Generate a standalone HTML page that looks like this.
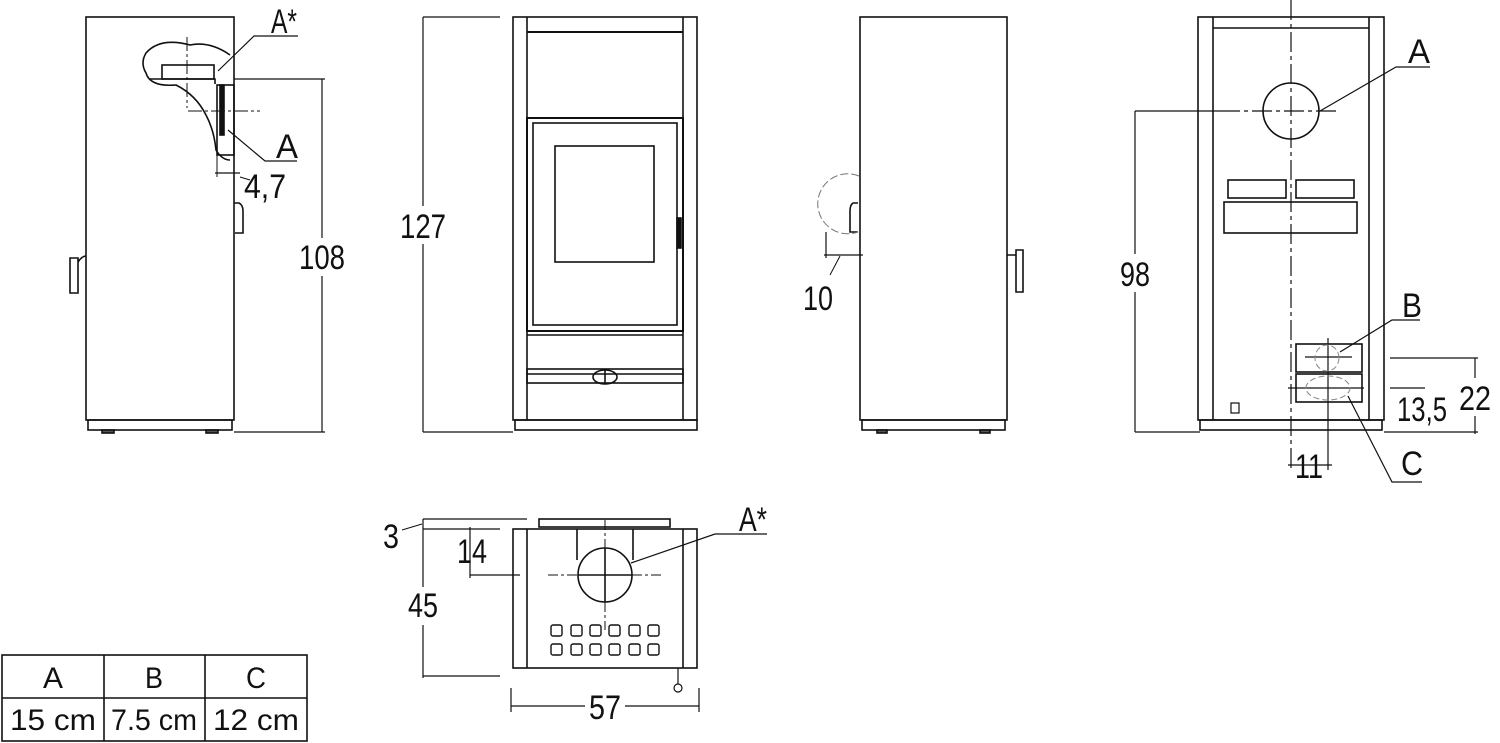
<!DOCTYPE html>
<html><head><meta charset="utf-8"><style>
html,body{margin:0;padding:0;background:#fff;}
svg{display:block;}
text{font-family:"Liberation Sans",sans-serif;fill:#111;}
</style></head><body>
<svg width="1500" height="743" viewBox="0 0 1500 743" xmlns="http://www.w3.org/2000/svg">
<g fill="none" stroke="#111" stroke-width="1.6">
<!-- LEFT SIDE VIEW -->
<rect x="86" y="17" width="148" height="403"/>
<rect x="88" y="420" width="144" height="10"/>
<rect x="102" y="430" width="12" height="3" fill="#555"/>
<rect x="206" y="430" width="12" height="3" fill="#555"/>
<path d="M78,258 h-8 v35 h8 z M78,262 q4,-6 8,-6"/>
<path d="M234,203 h5 q4,2 4,8 v22 h-8"/>
<path d="M230,55 q-20,-14 -40,-10 q-30,-8 -44,8 q-6,10 0,20 q4,14 30,12 q20,10 30,30 q8,15 10,35 q6,10 14,10"/>
<rect x="162" y="65" width="52" height="14"/>
<path d="M150,79 H215 v5"/>
<rect x="217" y="85" width="17" height="70"/>
<rect x="220" y="85" width="4" height="50" fill="#111"/>
<line x1="234" y1="79" x2="325" y2="79" stroke-width="1.2"/>
<line x1="234" y1="432" x2="325" y2="432" stroke-width="1.2"/>
<line x1="322" y1="79" x2="322" y2="432" stroke-width="1.2"/>
<line x1="217" y1="155" x2="217" y2="177" stroke-width="1"/>
<line x1="215" y1="173" x2="240" y2="173" stroke-width="1.2"/>
<path d="M240,177 L250,180" stroke-width="1"/>
<path d="M218,71 L254,36 H298" stroke-width="1.2"/>
<path d="M228,130 L265,161 H297" stroke-width="1.2"/>
</g>
<g stroke="#111" stroke-width="1" stroke-dasharray="14,3,3,3">
<line x1="187" y1="37" x2="187" y2="108"/>
<line x1="188" y1="111" x2="260" y2="111"/>
</g>

<!-- FRONT VIEW -->
<g fill="none" stroke="#111" stroke-width="1.6">
<rect x="513" y="17" width="184" height="403"/>
<line x1="527" y1="17" x2="527" y2="420"/>
<line x1="683" y1="17" x2="683" y2="420"/>
<line x1="527" y1="32" x2="683" y2="32" stroke-width="2"/>
<rect x="527" y="118" width="156" height="213" stroke-width="2"/>
<rect x="533" y="123" width="144" height="202"/>
<rect x="555" y="146" width="99" height="116"/>
<line x1="527" y1="335" x2="683" y2="335"/>
<rect x="527" y="369" width="156" height="14"/>
<line x1="527" y1="374" x2="683" y2="374"/>
<ellipse cx="605" cy="377" rx="12" ry="7"/>
<line x1="605" y1="370" x2="605" y2="384"/>
<rect x="677" y="218" width="4" height="30" fill="#111"/>
<rect x="515" y="420" width="182" height="10"/>
<line x1="423" y1="17" x2="500" y2="17" stroke-width="1.2"/>
<line x1="423" y1="432" x2="513" y2="432" stroke-width="1.2"/>
<line x1="423" y1="17" x2="423" y2="432" stroke-width="1.2"/>
</g>

<!-- RIGHT SIDE VIEW -->
<g fill="none" stroke="#111" stroke-width="1.6">
<rect x="860" y="17" width="147" height="403"/>
<rect x="862" y="420" width="143" height="10"/>
<rect x="877" y="430" width="10" height="3" fill="#555"/>
<rect x="980" y="430" width="10" height="3" fill="#555"/>
<path d="M858,203 h-5 q-3,2 -3,8 v21 h8"/>
<path d="M1007,255 h9 M1016,250 h7 v42 h-7 z"/>
<line x1="826" y1="232" x2="826" y2="258" stroke-width="1.2"/>
<line x1="824" y1="255" x2="863" y2="255" stroke-width="1.2"/>
<line x1="840" y1="256" x2="830" y2="275" stroke-width="1"/>
</g>
<path d="M859,176 A30,30 0 1 0 858,232" fill="none" stroke="#777" stroke-width="1" stroke-dasharray="8,3"/>

<!-- BACK VIEW -->
<g fill="none" stroke="#111" stroke-width="1.6">
<rect x="1198" y="17" width="186" height="403"/>
<line x1="1213" y1="17" x2="1213" y2="420"/>
<line x1="1369" y1="17" x2="1369" y2="420"/>
<line x1="1213" y1="28" x2="1369" y2="28"/>
<circle cx="1291" cy="111" r="28"/>
<rect x="1228" y="180" width="58" height="18"/>
<rect x="1296" y="180" width="58" height="18"/>
<rect x="1224" y="202" width="133" height="31"/>
<rect x="1296" y="344" width="66" height="28"/>
<rect x="1296" y="374" width="66" height="28"/>
<rect x="1231" y="403" width="8" height="10" stroke-width="1.2"/>
<rect x="1200" y="420" width="182" height="10"/>
<line x1="1135" y1="111" x2="1220" y2="111" stroke-width="1.2"/>
<line x1="1135" y1="432" x2="1200" y2="432" stroke-width="1.2"/>
<line x1="1135" y1="111" x2="1135" y2="432" stroke-width="1.2"/>
<line x1="1390" y1="358" x2="1478" y2="358" stroke-width="1.2"/>
<line x1="1475" y1="358" x2="1475" y2="434" stroke-width="1.2"/>
<line x1="1390" y1="388" x2="1425" y2="388" stroke-width="1.2"/>
<line x1="1384" y1="432" x2="1478" y2="432" stroke-width="1.2"/>
<line x1="1328" y1="338" x2="1328" y2="470" stroke-width="1.2"/>
<line x1="1288" y1="465" x2="1332" y2="465" stroke-width="1.2"/>
<line x1="1305" y1="357" x2="1352" y2="357" stroke-width="1.2"/>
<line x1="1288" y1="388" x2="1364" y2="388" stroke-width="1.2"/>
<path d="M1320,111 L1396,67 H1430" stroke-width="1.2"/>
<path d="M1340,352 L1392,320 H1420" stroke-width="1.2"/>
<path d="M1348,396 L1392,482 H1422" stroke-width="1.2"/>
</g>
<ellipse cx="1327" cy="358" rx="12" ry="13" fill="none" stroke="#888" stroke-width="1" stroke-dasharray="6,3"/>
<ellipse cx="1328" cy="388" rx="22" ry="12" fill="none" stroke="#888" stroke-width="1" stroke-dasharray="6,3"/>
<g stroke="#111" stroke-width="1.2" stroke-dasharray="20,4,4,4">
<line x1="1291" y1="0" x2="1291" y2="470"/>
<line x1="1220" y1="111" x2="1340" y2="111"/>
</g>

<!-- TOP VIEW -->
<g fill="none" stroke="#111" stroke-width="1.6">
<rect x="513" y="529" width="184" height="139"/>
<line x1="527" y1="529" x2="527" y2="668"/>
<line x1="683" y1="529" x2="683" y2="668"/>
<rect x="539" y="519" width="131" height="8"/>
<path d="M577,529 V560 M633,529 V560"/>
<circle cx="605" cy="575" r="27"/>
<line x1="578" y1="575" x2="632" y2="575"/>
<line x1="605" y1="548" x2="605" y2="602"/>
<circle cx="678" cy="688" r="4" stroke-width="1.2"/>
<line x1="678" y1="668" x2="678" y2="684" stroke-width="1.2"/>
<line x1="423" y1="519" x2="527" y2="519" stroke-width="1.2"/>
<line x1="423" y1="529" x2="500" y2="529" stroke-width="1.2"/>
<line x1="423" y1="676" x2="500" y2="676" stroke-width="1.2"/>
<line x1="423" y1="519" x2="423" y2="678" stroke-width="1.2"/>
<line x1="470" y1="527" x2="470" y2="578" stroke-width="1.2"/>
<line x1="470" y1="575" x2="520" y2="575" stroke-width="1.2"/>
<line x1="402" y1="530" x2="422" y2="524" stroke-width="1"/>
<line x1="511" y1="688" x2="511" y2="712" stroke-width="1.2"/>
<line x1="699" y1="688" x2="699" y2="712" stroke-width="1.2"/>
<line x1="511" y1="706" x2="585" y2="706" stroke-width="1.2"/>
<line x1="625" y1="706" x2="699" y2="706" stroke-width="1.2"/>
<path d="M631,563 L715,534 H767" stroke-width="1.2"/>
<g stroke-width="1.4">
<rect x="551" y="625" width="11" height="11" rx="2"/><rect x="571" y="625" width="11" height="11" rx="2"/><rect x="590" y="625" width="11" height="11" rx="2"/><rect x="609" y="625" width="11" height="11" rx="2"/><rect x="629" y="625" width="11" height="11" rx="2"/><rect x="648" y="625" width="11" height="11" rx="2"/>
<rect x="551" y="644" width="11" height="11" rx="2"/><rect x="571" y="644" width="11" height="11" rx="2"/><rect x="590" y="644" width="11" height="11" rx="2"/><rect x="609" y="644" width="11" height="11" rx="2"/><rect x="629" y="644" width="11" height="11" rx="2"/><rect x="648" y="644" width="11" height="11" rx="2"/>
</g>
</g>
<g stroke="#111" stroke-width="1" stroke-dasharray="10,3,3,3">
<line x1="548" y1="575" x2="578" y2="575"/>
<line x1="632" y1="575" x2="662" y2="575"/>
<line x1="605" y1="520" x2="605" y2="548"/>
<line x1="605" y1="602" x2="605" y2="630"/>
</g>

<!-- TABLE -->
<g fill="none" stroke="#111" stroke-width="1.6">
<rect x="2" y="655" width="305" height="86"/>
<line x1="2" y1="698" x2="307" y2="698"/>
<line x1="104" y1="655" x2="104" y2="741"/>
<line x1="205" y1="655" x2="205" y2="741"/>
</g>

<!-- TEXT -->
<g font-size="34" text-anchor="middle" lengthAdjust="spacingAndGlyphs">
<rect x="302" y="238" width="40" height="38" fill="#fff"/>
<text x="322" y="269" textLength="46" lengthAdjust="spacingAndGlyphs">108</text>
<rect x="403" y="206" width="40" height="38" fill="#fff"/>
<text x="423" y="238" textLength="46" lengthAdjust="spacingAndGlyphs">127</text>
<rect x="1118" y="254" width="34" height="38" fill="#fff"/>
<text x="1135" y="286" textLength="30" lengthAdjust="spacingAndGlyphs">98</text>
<rect x="405" y="587" width="36" height="38" fill="#fff"/>
<text x="423" y="617" textLength="30" lengthAdjust="spacingAndGlyphs">45</text>
<rect x="1460" y="378" width="32" height="38" fill="#fff"/>
<text x="1475" y="410" textLength="32" lengthAdjust="spacingAndGlyphs">22</text>
<text x="605" y="719" textLength="32" lengthAdjust="spacingAndGlyphs">57</text>
<text x="284" y="33" textLength="26" lengthAdjust="spacingAndGlyphs">A*</text>
<text x="287" y="158" textLength="22" lengthAdjust="spacingAndGlyphs">A</text>
<text x="265" y="198" textLength="42" lengthAdjust="spacingAndGlyphs">4,7</text>
<text x="818" y="310" textLength="30" lengthAdjust="spacingAndGlyphs">10</text>
<text x="1419" y="63" textLength="22" lengthAdjust="spacingAndGlyphs">A</text>
<text x="1412" y="317" textLength="20" lengthAdjust="spacingAndGlyphs">B</text>
<text x="1412" y="475" textLength="22" lengthAdjust="spacingAndGlyphs">C</text>
<text x="1422" y="421" textLength="50" lengthAdjust="spacingAndGlyphs">13,5</text>
<text x="1309" y="478" textLength="28" lengthAdjust="spacingAndGlyphs">11</text>
<text x="391" y="548" textLength="16" lengthAdjust="spacingAndGlyphs">3</text>
<text x="472" y="563" textLength="30" lengthAdjust="spacingAndGlyphs">14</text>
<text x="753" y="531" textLength="28" lengthAdjust="spacingAndGlyphs">A*</text>
</g>
<g font-size="30" text-anchor="middle">
<text x="53" y="688" textLength="20" lengthAdjust="spacingAndGlyphs">A</text>
<text x="154" y="688" textLength="18" lengthAdjust="spacingAndGlyphs">B</text>
<text x="256" y="688" textLength="20" lengthAdjust="spacingAndGlyphs">C</text>
<text x="53" y="730" textLength="86" lengthAdjust="spacingAndGlyphs">15 cm</text>
<text x="154" y="730" textLength="86" lengthAdjust="spacingAndGlyphs">7.5 cm</text>
<text x="256" y="730" textLength="86" lengthAdjust="spacingAndGlyphs">12 cm</text>
</g>
</svg>
</body></html>
